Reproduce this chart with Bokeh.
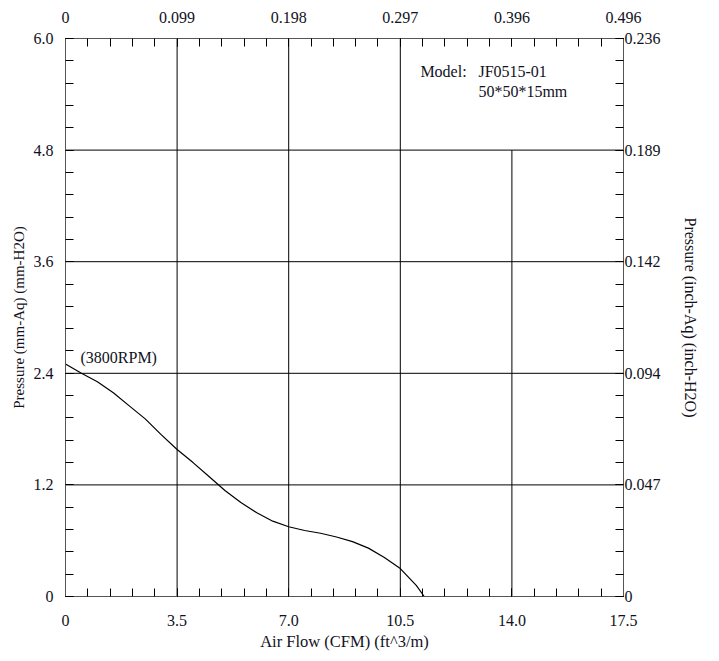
from bokeh.plotting import figure
from bokeh.models import Range1d, LinearAxis, FixedTicker
from bokeh.embed import file_html
from bokeh.resources import INLINE
from bokeh.core.properties import value

# ---- data ----
flow_cfm = [0.0, 0.5, 1.0, 1.5, 2.0, 2.5, 3.0, 3.5, 4.0, 4.5, 5.0, 5.5, 6.0, 6.5, 7.0, 7.5, 8.0, 8.5, 9.0, 9.5, 10.0, 10.5, 11.0, 11.25]
pressure_mm = [2.50, 2.40, 2.31, 2.19, 2.05, 1.91, 1.74, 1.58, 1.44, 1.29, 1.14, 1.01, 0.90, 0.81, 0.75, 0.71, 0.68, 0.64, 0.59, 0.52, 0.42, 0.30, 0.12, 0.0]

x_ticks = [0, 3.5, 7.0, 10.5, 14.0, 17.5]
x_tick_labels = ["0", "3.5", "7.0", "10.5", "14.0", "17.5"]
x_top_labels = ["0", "0.099", "0.198", "0.297", "0.396", "0.496"]
y_ticks = [0, 1.2, 2.4, 3.6, 4.8, 6.0]
y_tick_labels = ["0", "1.2", "2.4", "3.6", "4.8", "6.0"]
y_right_labels = ["0", "0.047", "0.094", "0.142", "0.189", "0.236"]
x_minor = [0.7 * i for i in range(26)]
y_minor = [0.24 * i for i in range(26)]

note_x = [11.13, 12.95, 12.95, 0.47]
note_y = [5.65, 5.65, 5.43, 2.57]
note_text = ["Model:", "JF0515-01", "50*50*15mm", "(3800RPM)"]

FONT = "Liberation Serif"
AXIS_COLOR = "#555555"
TXT = "#111122"

p = figure(width=711, height=653, output_backend="svg", toolbar_location=None,
           x_range=Range1d(0, 17.5), y_range=Range1d(0, 6.0),
           x_axis_location=None, y_axis_location=None,
           min_border_left=65, min_border_right=88, min_border_top=38, min_border_bottom=56)
p.xgrid.visible = False
p.ygrid.visible = False
p.outline_line_color = AXIS_COLOR
p.background_fill_color = "white"
p.border_fill_color = "white"


def style_axis(ax, labels, ticks, minor):
    ax.ticker = FixedTicker(ticks=ticks, minor_ticks=minor)
    ax.major_label_overrides = {t: l for t, l in zip(ticks, labels)}
    ax.major_label_text_font = FONT
    ax.major_label_text_font_size = "16px"
    ax.major_label_text_color = TXT
    ax.axis_label_text_font = FONT
    ax.axis_label_text_font_size = "16px"
    ax.axis_label_text_font_style = "normal"
    ax.axis_label_text_color = TXT
    ax.axis_line_color = AXIS_COLOR
    ax.major_tick_line_color = "black"
    ax.minor_tick_line_color = "black"
    ax.major_tick_in = 8
    ax.major_tick_out = 0
    ax.minor_tick_in = 8
    ax.minor_tick_out = 0


bottom = LinearAxis(axis_label="Air Flow (CFM) (ft^3/m)")
style_axis(bottom, x_tick_labels, x_ticks, x_minor)
bottom.axis_label_text_font_size = "16.5px"
bottom.major_label_standoff = 18
bottom.axis_label_standoff = 3
p.add_layout(bottom, "below")

top = LinearAxis()
style_axis(top, x_top_labels, x_ticks, x_minor)
top.major_label_standoff = 16
p.add_layout(top, "above")

left = LinearAxis(axis_label="Pressure (mm-Aq) (mm-H2O)")
style_axis(left, y_tick_labels, y_ticks, y_minor)
left.axis_label_text_font_size = "15px"
left.major_label_standoff = 12
left.axis_label_standoff = 4
p.add_layout(left, "left")

right = LinearAxis(axis_label="Pressure (inch-Aq) (inch-H2O)")
style_axis(right, y_right_labels, y_ticks, y_minor)
right.major_label_standoff = 1
right.axis_label_standoff = 18
p.add_layout(right, "right")

# grid lines (the 14.0 line stops at 4.8 below the model note)
gx = x_ticks[1:-1]
gx_top = [y_ticks[-1] if x != 14.0 else 4.8 for x in gx]
p.segment(x0=gx, y0=[0] * len(gx), x1=gx, y1=gx_top, line_color="black", line_width=1)
gy = y_ticks[1:-1]
p.segment(x0=[0] * len(gy), y0=gy, x1=[17.5] * len(gy), y1=gy, line_color="black", line_width=1)

p.line(flow_cfm, pressure_mm, line_color="black", line_width=1.2, line_join="round")

p.text(x=note_x, y=note_y, text=note_text, text_font=value(FONT), text_font_size="16px",
       text_baseline="middle", text_align="left", text_color=TXT)

open("out.html", "w").write(file_html(p, INLINE))
